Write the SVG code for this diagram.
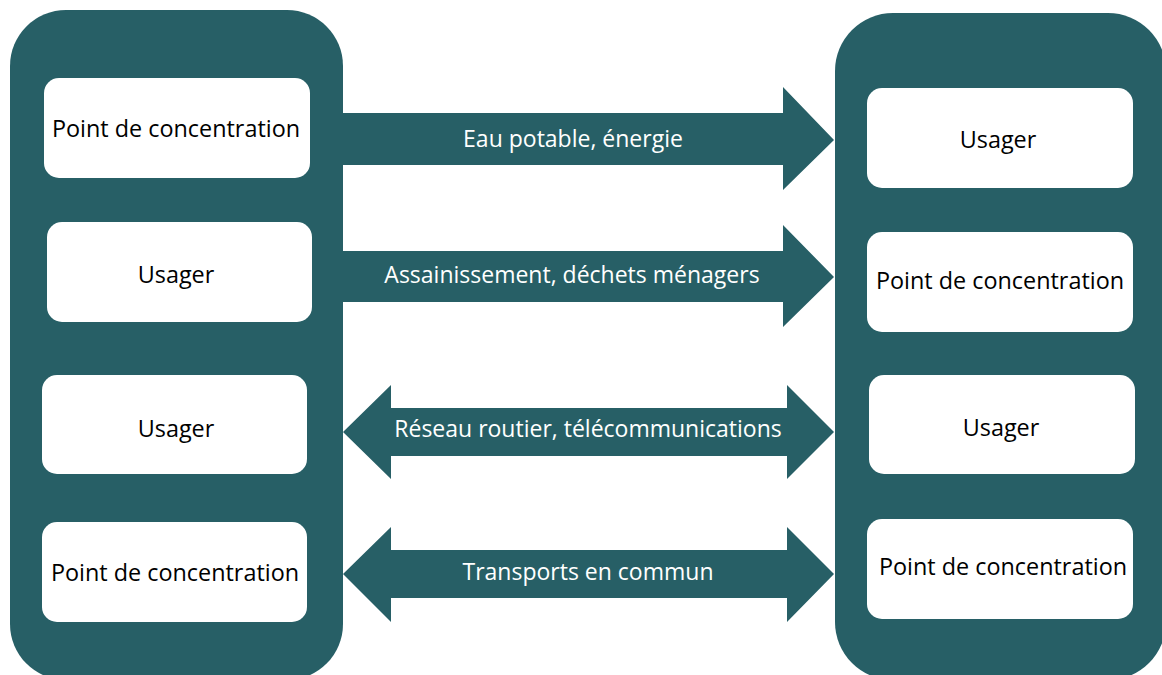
<svg xmlns="http://www.w3.org/2000/svg" width="1162" height="675" viewBox="0 0 1162 675">
<style>
.panel{fill:#275F66}
.box{fill:#ffffff}
.arrow{fill:#275F66}
.t{font-family:"Open Sans","Liberation Sans",sans-serif;font-size:23.4px;fill:#000;text-anchor:middle;dominant-baseline:central}
.lbl{font-family:"Open Sans","Liberation Sans",sans-serif;font-size:23px;fill:#fff;text-anchor:middle;dominant-baseline:central}
</style>
<rect width="1162" height="675" fill="#fff"/>
<g id="panel-left"><rect class="panel" x="10" y="10" width="333" height="670" rx="56"/></g>
<g id="panel-right"><rect class="panel" x="835" y="13" width="331" height="667" rx="58"/></g>
<g id="connectors">
<g id="arrow1"><path class="arrow" d="M343,113 H783 V87 L834,140 L783,190 V165 H343 Z"/><text class="lbl" x="573" y="138">Eau potable, énergie</text></g>
<g id="arrow2"><path class="arrow" d="M343,251 H783 V225 L834,277 L783,327 V302 H343 Z"/><text class="lbl" x="572" y="274">Assainissement, déchets ménagers</text></g>
<g id="arrow3"><path class="arrow" d="M343,432 L391,385 V408 H787 V385 L834,432 L787,479 V456 H391 V479 Z"/><text class="lbl" x="588" y="428">Réseau routier, télécommunications</text></g>
<g id="arrow4"><path class="arrow" d="M343,574 L391,527 V550 H787 V527 L834,574 L787,622 V598 H391 V622 Z"/><text class="lbl" x="588" y="571">Transports en commun</text></g>
</g>
<g id="L1"><rect class="box" x="44" y="78" width="266" height="100" rx="15"/><text class="t" x="176" y="128">Point de concentration</text></g>
<g id="L2"><rect class="box" x="47" y="222" width="265" height="100" rx="15"/><text class="t" x="176" y="274">Usager</text></g>
<g id="L3"><rect class="box" x="42" y="375" width="265" height="99" rx="15"/><text class="t" x="176" y="428">Usager</text></g>
<g id="L4"><rect class="box" x="42" y="522" width="265" height="100" rx="15"/><text class="t" x="175" y="572">Point de concentration</text></g>
<g id="R1"><rect class="box" x="867" y="88" width="266" height="100" rx="15"/><text class="t" x="998" y="139">Usager</text></g>
<g id="R2"><rect class="box" x="867" y="232" width="266" height="100" rx="15"/><text class="t" x="1000" y="280">Point de concentration</text></g>
<g id="R3"><rect class="box" x="869" y="375" width="266" height="99" rx="15"/><text class="t" x="1001" y="427">Usager</text></g>
<g id="R4"><rect class="box" x="867" y="519" width="266" height="100" rx="15"/><text class="t" x="1003" y="566">Point de concentration</text></g>
</svg>
